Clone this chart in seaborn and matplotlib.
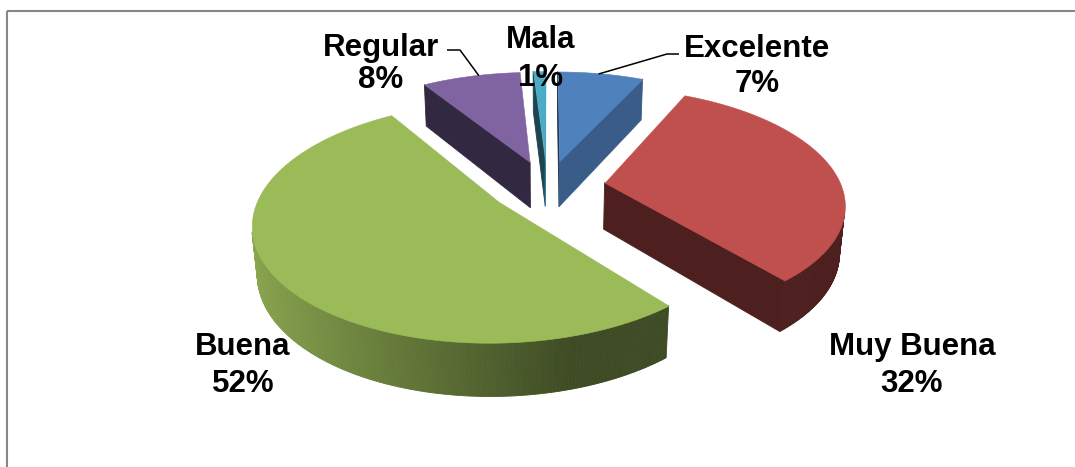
import numpy as np
import matplotlib
matplotlib.use("Agg")
import matplotlib.pyplot as plt
from matplotlib.collections import PolyCollection
from matplotlib.patches import Rectangle
import seaborn as sns

# ---- data -------------------------------------------------------------
categories = ["Excelente", "Muy Buena", "Buena", "Regular", "Mala"]
percentages = [7, 32, 52, 8, 1]
slice_colors = ["#4F81BD", "#C0504D", "#9BBB59", "#8064A2", "#4BACC6"]

# ---- style ------------------------------------------------------------
sns.set_theme(style="white")
plt.rcParams["font.family"] = ["Liberation Sans", "DejaVu Sans"]

W, H = 1075, 467
fig = plt.figure(figsize=(W / 100, H / 100), dpi=100)
ax = fig.add_axes([0, 0, 1, 1])
ax.set_xlim(0, W)
ax.set_ylim(H, 0)
ax.axis("off")

# ---- 3-D view of the pie ---------------------------------------------
elev = np.deg2rad(26.8)      # camera elevation
dist = 5.43                  # camera distance (in pie radii)
px_per_unit = 248.3
cx, cy = 547.0, 186.0        # screen position of the pie centre
width_ratio = 0.952          # horizontal / depth radius of the pie base
thick = 0.214                # slab thickness (in pie radii)
explode = 0.235              # radial offset of every slice

ce, se = np.cos(elev), np.sin(elev)
camera = np.array([0.0, -dist * ce, dist * se])


def project(X, Y, Z):
    X, Y, Z = (np.asarray(v, dtype=float) for v in (X, Y, Z))
    ys = Y * se + Z * ce
    depth = Y * ce - Z * se
    s = dist / (dist + depth)
    return np.column_stack([cx + px_per_unit * X * s, cy - px_per_unit * ys * s])


def shade(color, f):
    rgb = np.array(matplotlib.colors.to_rgb(color))
    return tuple(np.clip(rgb * f, 0, 1))


def visible(normal, point):
    return np.dot(normal, camera - point) > 0


def rim(ox, oy, t, r=1.0):
    return ox + r * width_ratio * np.sin(t), oy + r * np.cos(t)


fractions = np.array(percentages, dtype=float) / np.sum(percentages)
ends = np.cumsum(fractions) * 360.0
starts = ends - fractions * 360.0
mids = (starts + ends) / 2.0

slices = []
for i, (t1, t2, tm) in enumerate(zip(starts, ends, mids)):
    b = np.deg2rad(tm)
    ox, oy = explode * np.sin(b), explode * np.cos(b)
    slices.append((i, np.deg2rad(t1), np.deg2rad(t2), ox, oy))

# far slices first
order = sorted(slices, key=lambda s: -s[4])

z = 2
for i, a1, a2, ox, oy in order:
    col = slice_colors[i]
    n = max(4, int(np.degrees(a2 - a1) / 0.5))
    th = np.linspace(a1, a2, n + 1)
    rx, ry = rim(ox, oy, th)

    polys, cols = [], []

    # radial faces
    for a, sign in ((a1, -1), (a2, 1)):
        normal = sign * np.array([np.cos(a), -width_ratio * np.sin(a), 0.0])
        normal /= np.linalg.norm(normal)
        ex, ey = rim(ox, oy, a)
        mid_pt = np.array([(ox + ex) / 2, (oy + ey) / 2, -thick / 2])
        if visible(normal, mid_pt):
            quad = project([ox, ex, ex, ox], [oy, ey, ey, oy],
                           [0, 0, -thick, -thick])
            f = 0.4 + 0.35 * max(0.0, normal[0])
            polys.append(quad)
            cols.append(shade(col, f))

    # outer curved wall
    for k in range(n):
        tmk = (th[k] + th[k + 1]) / 2
        normal = np.array([np.sin(tmk), width_ratio * np.cos(tmk), 0.0])
        normal /= np.linalg.norm(normal)
        px_, py_ = rim(ox, oy, tmk)
        pt = np.array([px_, py_, -thick / 2])
        if visible(normal, pt):
            quad = project([rx[k], rx[k + 1], rx[k + 1], rx[k]],
                           [ry[k], ry[k + 1], ry[k + 1], ry[k]],
                           [0, 0, -thick, -thick])
            f = 0.4 + 0.5 * np.clip((0.3 - normal[0]) / 1.3, 0, 1)
            polys.append(quad)
            cols.append(shade(col, f))

    if polys:
        ax.add_collection(PolyCollection(polys, facecolors=cols, edgecolors=cols,
                                         linewidths=0.6, zorder=z))
    z += 1

    # top face
    top = project(np.r_[ox, rx], np.r_[oy, ry], np.zeros(n + 2))
    ax.add_collection(PolyCollection([top], facecolors=[col], edgecolors=[col],
                                     linewidths=0.4, zorder=z))
    z += 1

# ---- labels -----------------------------------------------------------
label_pos = {  # x centre, baseline of name, baseline of percentage
    "Excelente": (757, 57, 92),
    "Muy Buena": (912, 355, 392),
    "Buena": (243, 355, 392),
    "Regular": (381, 56, 88),
    "Mala": (541, 48, 86),
}
for cat, pct in zip(categories, percentages):
    x, y1, y2 = label_pos[cat]
    ax.text(x, y1, cat, ha="center", va="baseline", fontsize=22.5,
            fontweight="bold", color="black", zorder=20)
    ax.text(x, y2, f"{pct}%", ha="center", va="baseline", fontsize=22.5,
            fontweight="bold", color="black", zorder=20)

# leader lines from the small slices to their labels
leaders = {  # slice, position along the arc, elbow points near the label
    "Regular": (0.58, [(460, 50), (447, 50)]),
    "Excelente": (0.48, [(667, 54), (679, 54)]),
}
for cat, (frac, elbow) in leaders.items():
    i = categories.index(cat)
    _, a1, a2, ox, oy = slices[i]
    a = a1 + frac * (a2 - a1)
    ax_, ay_ = rim(ox, oy, a, 0.99)
    anchor = project([ax_], [ay_], [0.0])[0]
    xs = [anchor[0]] + [p[0] for p in elbow]
    ys = [anchor[1]] + [p[1] for p in elbow]
    ax.plot(xs, ys, color="black", lw=1.1, zorder=21, solid_capstyle="butt")

# chart frame
ax.add_patch(Rectangle((7, 11), 1200, 600, fill=False, edgecolor="#878787",
                       lw=1.5, zorder=30, clip_on=True))

fig.savefig("out.png", dpi=100)
